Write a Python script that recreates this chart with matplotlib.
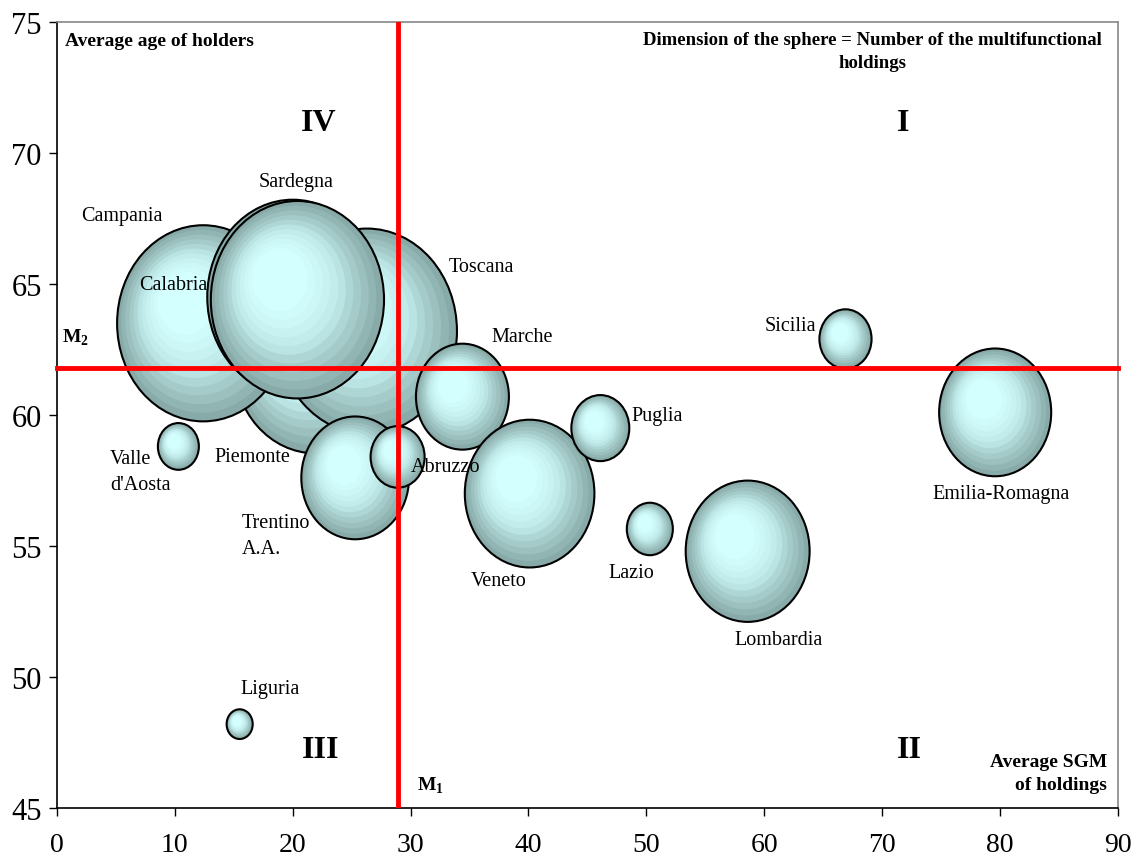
import numpy as np
import matplotlib
matplotlib.use("Agg")
import matplotlib.pyplot as plt
from matplotlib.patches import Ellipse
from matplotlib.colors import to_rgb

plt.rcParams['font.family'] = ['Liberation Serif', 'DejaVu Serif']
plt.rcParams['mathtext.fontset'] = 'custom'
plt.rcParams['mathtext.rm'] = 'Liberation Serif'
plt.rcParams['mathtext.bf'] = 'Liberation Serif:bold'

# regions, in drawing order (back to front)
regions = ["Piemonte", "Toscana", "Campania", "Calabria", "Sardegna",
           "Trentino\nA.A.", "Abruzzo", "Marche", "Veneto", "Puglia", "Lazio",
           "Lombardia", "Sicilia", "Emilia-Romagna", "Valle\nd'Aosta", "Liguria"]
sgm = [21.9, 26.3, 12.4, 20.0, 20.4, 25.3, 28.9, 34.4, 40.1, 46.1, 50.3,
       58.6, 66.9, 79.6, 10.3, 15.5]
age = [62.1, 63.2, 63.5, 64.5, 64.4, 57.6, 58.4, 60.7, 57.0, 59.5, 55.65,
       54.8, 62.9, 60.1, 58.8, 48.2]
holdings = [6700, 8100, 7400, 7300, 7500, 2900, 730, 2160, 4200, 840, 530,
            3840, 680, 3140, 420, 170]

mean_sgm = 28.9
mean_age = 61.8

xticks = list(range(0, 91, 10))
yticks = list(range(45, 76, 5))

# where each region name goes (data coords) and its alignment
label_pos = {
    "Piemonte": (16.6, 58.4, 'center'),
    "Toscana": (36.0, 65.65, 'center'),
    "Campania": (5.5, 67.6, 'center'),
    "Calabria": (9.9, 65.0, 'center'),
    "Sardegna": (20.3, 68.9, 'center'),
    "Trentino\nA.A.": (15.7, 55.4, 'left'),
    "Abruzzo": (33.0, 58.05, 'center'),
    "Marche": (39.5, 63.0, 'center'),
    "Veneto": (37.5, 53.7, 'center'),
    "Puglia": (50.9, 60.0, 'center'),
    "Lazio": (48.7, 54.0, 'center'),
    "Lombardia": (61.2, 51.45, 'center'),
    "Sicilia": (62.2, 63.4, 'center'),
    "Emilia-Romagna": (80.1, 57.0, 'center'),
    "Valle\nd'Aosta": (4.5, 57.85, 'left'),
    "Liguria": (18.1, 49.55, 'center'),
}

fig = plt.figure(figsize=(11.35, 8.62), dpi=100)
ax = fig.add_axes([0.0502, 0.0615, 0.9346, 0.9118])
ax.set_xlim(0, 90)
ax.set_ylim(45, 75)
ax.set_xticks(xticks)
ax.set_yticks(yticks)
ax.tick_params(axis='both', direction='out', length=6, width=1, color='black')
ax.tick_params(axis='x', pad=11, labelsize=20)
ax.tick_params(axis='y', pad=5, labelsize=22)
for side in ['top', 'right']:
    ax.spines[side].set_color('#888888')
    ax.spines[side].set_linewidth(1.2)
for side in ['left', 'bottom']:
    ax.spines[side].set_color('black')
    ax.spines[side].set_linewidth(1.2)

# pixel scale of the data units, used to keep the spheres round-ish
fig.canvas.draw()
p0 = ax.transData.transform((0, 45))
p1 = ax.transData.transform((90, 75))
px_x = (p1[0] - p0[0]) / 90.0
px_y = (p1[1] - p0[1]) / 30.0
stretch = 1.14  # spheres are slightly taller than wide

edge_col = np.array(to_rgb('#88aaa8'))
mid_col = np.array(to_rgb('#b2dcda'))
core_col = np.array(to_rgb('#d4ffff'))


def sphere(ax, x, y, size, z):
    r_px = np.sqrt(size)
    rx = r_px / px_x
    ry = r_px * stretch / px_y
    n = 11
    for i in range(n):
        t = i / (n - 1)
        s = 1.0 - 0.68 * t
        cx = x - (1 - s) * 0.30 * rx
        cy = y + (1 - s) * 0.30 * ry
        if t < 0.45:
            c = edge_col + (mid_col - edge_col) * (t / 0.45)
        else:
            c = mid_col + (core_col - mid_col) * ((t - 0.45) / 0.55) ** 0.6
        ax.add_patch(Ellipse((cx, cy), 2 * rx * s, 2 * ry * s, facecolor=c,
                             edgecolor='none', zorder=z))
    ax.add_patch(Ellipse((x, y), 2 * rx, 2 * ry, facecolor='none',
                         edgecolor='black', linewidth=1.5, zorder=z + 0.01))


for k, (name, x, y, h) in enumerate(zip(regions, sgm, age, holdings)):
    sphere(ax, x, y, h, 2 + k * 0.1)
    lx, ly, ha = label_pos[name]
    ax.text(lx, ly, name, fontsize=14.5, ha=ha, va='center', zorder=10,
            linespacing=1.5)

# quadrant lines at the means
ax.axvline(mean_sgm, color='red', linewidth=3.5, zorder=6)
ax.axhline(mean_age, color='red', linewidth=3.5, zorder=6, clip_on=False)

bold = dict(fontweight='bold', zorder=11)
ax.text(0.7, 74.3, "Average age of holders", fontsize=14, ha='left', va='center', **bold)
ax.text(69.2, 74.65, "Dimension of the sphere = Number of the multifunctional\nholdings",
        fontsize=13.5, ha='center', va='top', multialignment='center', linespacing=1.45, **bold)
ax.text(89.1, 46.35, "Average SGM\nof holdings", fontsize=14, ha='right', va='center',
        multialignment='right', linespacing=1.45, **bold)

ax.text(22.2, 71.15, "IV", fontsize=23, ha='center', va='center', **bold)
ax.text(71.8, 71.15, "I", fontsize=23, ha='center', va='center', **bold)
ax.text(22.4, 47.25, "III", fontsize=23, ha='center', va='center', **bold)
ax.text(72.35, 47.25, "II", fontsize=23, ha='center', va='center', **bold)

ax.text(1.6, 63.0, r"M$_\mathbf{2}$", fontsize=14, ha='center', va='center', **bold)
ax.text(31.7, 45.9, r"M$_\mathbf{1}$", fontsize=14, ha='center', va='center', **bold)

fig.savefig("out.png", dpi=100)
